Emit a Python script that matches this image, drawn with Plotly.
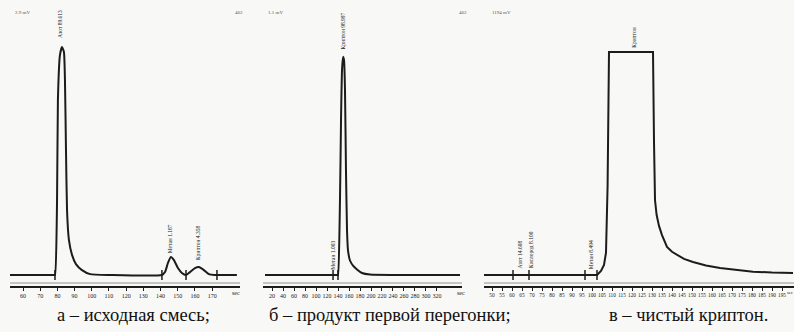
import plotly.graph_objects as go

# ---------------- data ----------------
# Panel а – исходная смесь (time, s ; signal, % of full scale)
a_t = [52.4, 78.0, 78.6, 79.8, 80.3, 81.5, 82.7, 83.8, 84.4, 85.0, 85.6, 86.7, 88.5, 90.8, 94.3, 99.0,
       110.6, 140.8, 142.6, 144.3, 146.0, 147.8, 150.1, 152.4, 154.8, 157.1, 160.0, 162.3, 165.2,
       168.1, 171.6, 184.4]
a_v = [0, 0, 0, 33.6, 78.5, 98.7, 102.2, 100, 87.4, 56, 29.1, 15.7, 9.0, 4.9, 2.2, 0.4,
       0, 0, 1.3, 5.4, 8.1, 6.7, 3.1, 0.9, 0, 1.3, 3.1, 3.6, 2.2,
       0.4, 0, 0]
a_marks = [78.6, 140.8, 154.8, 172.8]
a_ticks = [60, 70, 80, 90, 100, 110, 120, 130, 140, 150, 160, 170]
a_peaks = ["Азот 89.613", "Метан 1.187", "Криптон 4.358"]
a_peak_t = [81.5, 146.0, 161.7]
a_peak_v = [105.4, 9.0, 5.8]

# Panel б – продукт первой перегонки
b_t = [7.3, 127.3, 139.0, 140.0, 143.6, 145.5, 147.3, 149.1, 150.9, 152.7, 154.5, 156.4, 158.2,
       161.8, 167.3, 174.5, 183.6, 198.2, 252.7, 361.8]
b_v = [0, 0, 0, 0, 33.6, 69.5, 91.9, 97.8, 96.4, 83, 47, 20, 11,
       6.5, 4.2, 2.5, 0.9, 0.2, 0, 0]
b_marks = [131.0, 140.0]
b_ticks = [20, 40, 60, 80, 100, 120, 140, 160, 180, 200, 220, 240, 260, 280, 300, 320]
b_peaks = ["Криптон 98.997", "Метан 1.003"]
b_peak_t = [149.1, 131.0]
b_peak_v = [100.0, 1.3]

# Panel в – чистый криптон
c_t = [46, 102.5, 104.5, 106, 107, 107.8, 108.5, 130.5, 131, 131.5, 132.3, 133.5, 135, 137.5,
       140, 142.5, 146, 150.5, 157, 164, 172, 180.5, 190, 200.5]
c_v = [0, 0, 1.8, 4.5, 10, 40, 100, 100, 60, 33.6, 27, 22, 17.9, 12.6,
       10.4, 9.0, 7.2, 5.8, 4.3, 3.1, 2.2, 1.5, 1.1, 0.9]
c_marks = [60.5, 68.5, 96.5, 102.5]
c_ticks = list(range(50, 200, 5))
c_peaks = ["Азот 14.608", "Кислород 8.100", "Метан 8.494", "Криптон"]
c_peak_t = [64.0, 69.5, 99.5, 121.0]
c_peak_v = [2.0, 2.0, 1.5, 101.0]

captions = ["а – исходная смесь;", "б – продукт первой перегонки;", "в – чистый криптон."]
corner_labels = ["2.9 mV", "462", "1.1 mV", "462", "1194 mV"]

# ---------------- figure ----------------
INK = "#1c1c1c"
BG = "#f8f8f7"
W, H = 794, 332

panels = [
    dict(t=a_t, v=a_v, marks=a_marks, ticks=a_ticks, peaks=a_peaks, pt=a_peak_t, pv=a_peak_v,
         dom=[10 / W, 240 / W], rng=[52.44, 186.2], shape="spline", sec=180.5, fs=6),
    dict(t=b_t, v=b_v, marks=b_marks, ticks=b_ticks, peaks=b_peaks, pt=b_peak_t, pv=b_peak_v,
         dom=[263 / W, 462 / W], rng=[3.6, 365.5], shape="spline", sec=353, fs=6),
    dict(t=c_t, v=c_v, marks=c_marks, ticks=c_ticks, peaks=c_peaks, pt=c_peak_t, pv=c_peak_v,
         dom=[484 / W, 794 / W], rng=[46, 201], shape="linear", sec=None, fs=5.3),
]

fig = go.Figure()
annotations = []
shapes = []
yr = [-25.56, 123.3]
axis_pos = 1 - 287 / H

for i, p in enumerate(panels, start=1):
    xa = "x" if i == 1 else f"x{i}"
    ya = "y" if i == 1 else f"y{i}"
    tickfont = dict(family="Liberation Serif", size=p["fs"], color="#222")
    fig.add_trace(go.Scatter(x=p["t"], y=p["v"], mode="lines", xaxis=xa, yaxis=ya,
                             line=dict(color=INK, width=2, shape=p["shape"], smoothing=0.5),
                             hoverinfo="skip"))
    fig.add_trace(go.Scatter(x=p["marks"], y=[0] * len(p["marks"]), mode="markers", xaxis=xa, yaxis=ya,
                             marker=dict(symbol="line-ns", size=7, line=dict(color=INK, width=1.5)),
                             hoverinfo="skip"))
    key = "" if i == 1 else str(i)
    fig.layout["xaxis" + key] = dict(
        domain=p["dom"], range=p["rng"], anchor="free", position=axis_pos,
        tickmode="array", tickvals=p["ticks"], ticktext=[str(v) for v in p["ticks"]],
        showline=True, linecolor=INK, linewidth=1.5, ticks="outside", ticklen=3, tickwidth=1,
        tickcolor=INK, tickangle=0, tickfont=tickfont,
        showgrid=False, zeroline=False, fixedrange=True)
    fig.layout["yaxis" + key] = dict(domain=[0, 1], range=yr, visible=False, anchor=xa, fixedrange=True)
    shapes.append(dict(type="line", xref=xa + " domain", yref="paper", x0=0, x1=1,
                       y0=1 - 283 / H, y1=1 - 283 / H, line=dict(color="#777", width=0.8)))
    for name, t, v in zip(p["peaks"], p["pt"], p["pv"]):
        annotations.append(dict(x=t, y=v, xref=xa, yref=ya, text=name, showarrow=False, textangle=-90,
                                xanchor="center", yanchor="bottom",
                                font=dict(family="Liberation Serif", size=5.5, color="#222")))
    if p["sec"] is not None:
        annotations.append(dict(x=p["sec"], y=axis_pos, xref=xa, yref="paper", text="sec", showarrow=False,
                                xanchor="left", yanchor="top", yshift=-1, font=tickfont))
    else:
        annotations.append(dict(x=1.0, y=axis_pos, xref="paper", yref="paper", text="sec", showarrow=False,
                                xanchor="right", yanchor="top", yshift=-1, xshift=1,
                                font=dict(family="Liberation Serif", size=4.5, color="#222")))

cap_x = [133 / W, 390 / W, 688 / W]
for txt, x in zip(captions, cap_x):
    annotations.append(dict(x=x, y=1 - 315 / H, xref="paper", yref="paper", text=txt, showarrow=False,
                            xanchor="center", yanchor="middle",
                            font=dict(family="Liberation Serif", size=18.5, color="#111")))

corner_x = [13 / W, 233 / W, 266 / W, 457 / W, 490 / W]
for txt, x in zip(corner_labels, corner_x):
    annotations.append(dict(x=x, y=1 - 12 / H, xref="paper", yref="paper", text=txt, showarrow=False,
                            xanchor="left", yanchor="middle",
                            font=dict(family="Liberation Serif", size=5, color="#555")))

fig.update_layout(width=W, height=H, margin=dict(l=0, r=0, t=0, b=0),
                  paper_bgcolor=BG, plot_bgcolor="rgba(0,0,0,0)", showlegend=False,
                  annotations=annotations, shapes=shapes)

fig.write_html("out.html", config={"displayModeBar": False},
               post_script="document.body.style.margin='0px';document.body.style.background='%s';" % BG)
